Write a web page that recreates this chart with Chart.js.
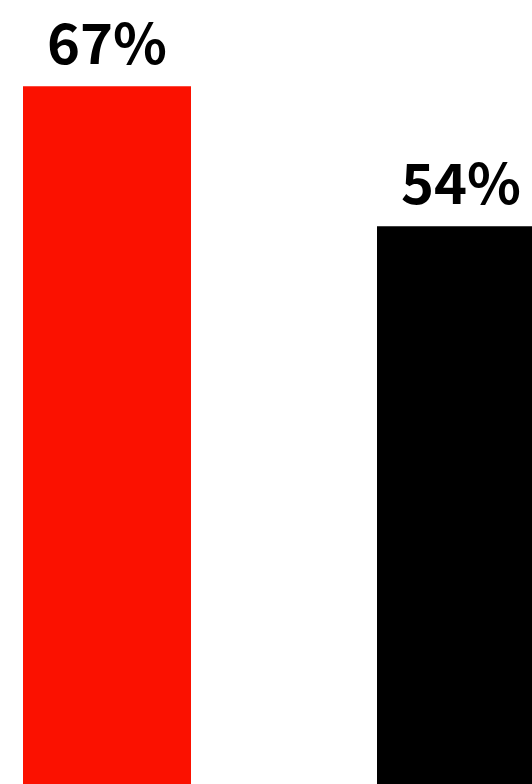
<!DOCTYPE html>
<html>
<head>
<meta charset="utf-8">
<script src="https://cdn.jsdelivr.net/npm/chart.js@4/dist/chart.umd.min.js"></script>
<style>
  html, body { margin: 0; padding: 0; width: 532px; height: 784px; overflow: hidden; background: #fff; }
  #wrap { position: absolute; left: -70px; top: 0; width: 708px; height: 808px; }
</style>
</head>
<body>
<div id="wrap"><canvas id="c" width="708" height="808"></canvas></div>
<script>
const categories = ["A", "B"];
const values = [67, 54];
const labels = ["67%", "54%"];
const colors = ["#fb1100", "#000000"];

const valueLabels = {
  id: 'valueLabels',
  afterDatasetsDraw(chart) {
    const ctx = chart.ctx;
    const meta = chart.getDatasetMeta(0);
    ctx.save();
    ctx.font = 'bold 56px "Noto Sans CJK JP"';
    ctx.fillStyle = '#000';
    ctx.textAlign = 'center';
    ctx.textBaseline = 'alphabetic';
    meta.data.forEach((bar, i) => {
      ctx.fillText(labels[i], bar.x, bar.y - 22);
    });
    ctx.restore();
  }
};

new Chart(document.getElementById('c'), {
  type: 'bar',
  data: {
    labels: categories,
    datasets: [{
      data: values,
      backgroundColor: colors,
      borderWidth: 0,
      barPercentage: 1,
      categoryPercentage: 168 / 354
    }]
  },
  options: {
    responsive: false,
    animation: false,
    devicePixelRatio: 1,
    layout: { padding: 0 },
    plugins: { legend: { display: false }, tooltip: { enabled: false } },
    scales: {
      x: { display: false },
      y: { display: false, min: 0, max: 75 }
    }
  },
  plugins: [valueLabels]
});
</script>
</body>
</html>
